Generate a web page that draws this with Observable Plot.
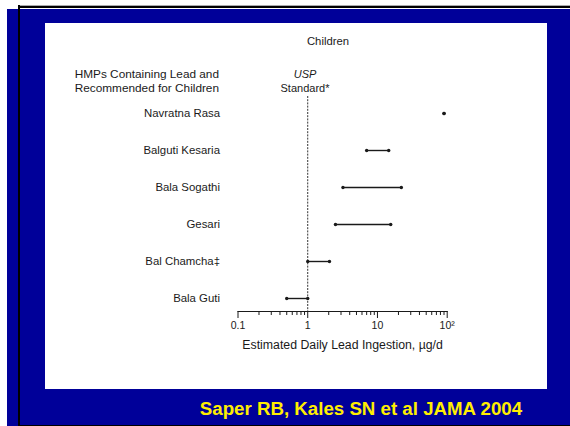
<!DOCTYPE html>
<html><head><meta charset="utf-8">
<script src="https://cdn.jsdelivr.net/npm/d3@7"></script>
<script src="https://cdn.jsdelivr.net/npm/@observablehq/plot@0.6"></script>
<style>
html,body{margin:0;padding:0;background:#fff;}
#page{position:relative;width:570px;height:426px;overflow:hidden;font-family:"Liberation Sans",Arial,sans-serif;color:#1a1a1a;}
.abs{position:absolute;}
#blue{left:7px;top:9px;right:0;bottom:0;background:#000099;}
#topline{left:18px;top:5px;right:0;height:2px;background:#000;border-top:1px solid #aaa;}
#vline{left:18px;top:5px;width:2px;bottom:0;background:#000;}
#bline{left:18px;bottom:0;right:0;height:1px;background:#000;}
#panel{left:45px;top:23px;width:502px;height:366px;background:#fff;}
#cite{left:161px;width:400px;top:398px;line-height:22px;text-align:center;font-weight:bold;font-size:18.7px;color:#ffee00;}
#title{left:228px;width:200px;top:34px;line-height:14px;text-align:center;font-size:11.3px;}
#head{left:19px;width:200px;top:67px;line-height:14px;text-align:right;font-size:11.8px;}
#usp{left:255px;width:100px;top:67px;line-height:14px;text-align:center;font-size:11px;}
#chart{left:0;top:0;}
</style>
</head><body>
<div id="page">
  <div id="blue" class="abs"></div>
  <div id="topline" class="abs"></div>
  <div id="vline" class="abs"></div>
  <div id="bline" class="abs"></div>
  <div id="panel" class="abs"></div>
  <div id="title" class="abs">Children</div>
  <div id="head" class="abs">HMPs Containing Lead and<br>Recommended for Children</div>
  <div id="usp" class="abs"><i>USP</i><br>Standard*</div>
  <div id="chart" class="abs"></div>
  <div id="cite" class="abs">Saper RB, Kales SN et al JAMA 2004</div>
</div>
<script>
const products = ["Navratna Rasa", "Balguti Kesaria", "Bala Sogathi", "Gesari", "Bal Chamcha‡", "Bala Guti"];
const lowValues = [90, 7, 3.2, 2.5, 1.0, 0.5];
const highValues = [90, 14.5, 22, 15.5, 2.05, 1.0];
const uspStandard = 1;
const majorTicks = [0.1, 1, 10, 100];
const majorTickLabels = ["0.1", "1", "10", "10²"];
const minorTicks = [0.2, 0.3, 0.4, 0.5, 0.6, 0.7, 0.8, 0.9, 2, 3, 4, 5, 6, 7, 8, 9, 20, 30, 40, 50, 60, 70, 80, 90];
const xTitle = "Estimated Daily Lead Ingestion, µg/d";

const rows = products.map((p, i) => ({product: p, low: lowValues[i], high: highValues[i]}));
const ink = "#1a1a1a";

const chart = Plot.plot({
  width: 570,
  height: 426,
  marginLeft: 237.5,
  marginRight: 123.3,
  marginTop: 96,
  marginBottom: 115,
  style: {background: "transparent", fontFamily: '"Liberation Sans", Arial, sans-serif', color: ink, fontSize: "10px"},
  x: {type: "log", domain: [0.1, 100]},
  y: {type: "point", domain: products, range: [113, 298], padding: 0},
  marks: [
    Plot.frame({anchor: "bottom", stroke: ink}),
    Plot.ruleX([uspStandard], {stroke: "#333", strokeDasharray: "2,1.2"}),
    Plot.ruleY(rows, {y: "product", x1: "low", x2: "high", stroke: ink, strokeWidth: 1.4}),
    Plot.dot(rows, {y: "product", x: "low", r: 1.7, fill: ink}),
    Plot.dot(rows, {y: "product", x: "high", r: 1.7, fill: ink}),
    Plot.axisX({ticks: majorTicks, tickSize: 7, tickPadding: 3, fontSize: 10.5, tickFormat: d => majorTickLabels[majorTicks.indexOf(d)], label: null, stroke: ink}),
    Plot.axisX({ticks: minorTicks, tickSize: 4, tickFormat: () => "", label: null, stroke: ink}),
    Plot.axisY({tickSize: 0, tickPadding: 18, fontSize: 11.4, label: null}),
    Plot.text([xTitle], {frameAnchor: "bottom", lineAnchor: "middle", dy: 34, fontSize: 12.3, fill: ink})
  ]
});
document.getElementById("chart").appendChild(chart);
</script>
</body></html>
